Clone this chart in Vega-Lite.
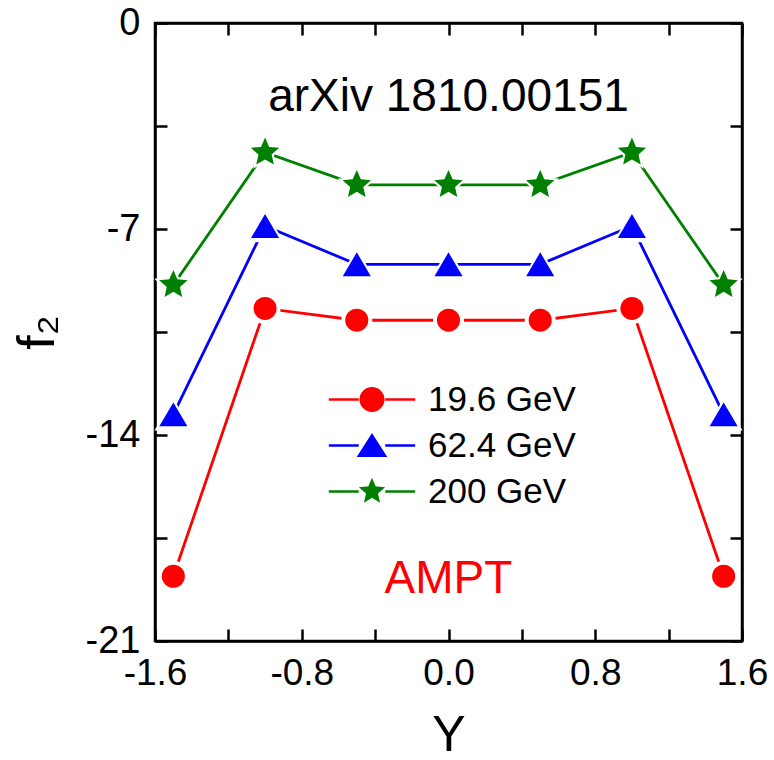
{
  "$schema": "https://vega.github.io/schema/vega-lite/v6.json",
  "width": 587,
  "height": 618,
  "autosize": {"type": "none"},
  "padding": {"left": 155, "top": 23, "right": 32, "bottom": 119},
  "background": "white",
  "config": {
    "font": "Liberation Sans",
    "view": {"stroke": "black", "strokeWidth": 2.5}
  },
  "data": {
    "values": [
      {"series": "19.6 GeV", "energy": 19.6, "Y": -1.5, "f2": -18.8},
      {"series": "19.6 GeV", "energy": 19.6, "Y": -1.0, "f2": -9.7},
      {"series": "19.6 GeV", "energy": 19.6, "Y": -0.5, "f2": -10.1},
      {"series": "19.6 GeV", "energy": 19.6, "Y": 0.0, "f2": -10.1},
      {"series": "19.6 GeV", "energy": 19.6, "Y": 0.5, "f2": -10.1},
      {"series": "19.6 GeV", "energy": 19.6, "Y": 1.0, "f2": -9.7},
      {"series": "19.6 GeV", "energy": 19.6, "Y": 1.5, "f2": -18.8},
      {"series": "62.4 GeV", "energy": 62.4, "Y": -1.5, "f2": -13.3},
      {"series": "62.4 GeV", "energy": 62.4, "Y": -1.0, "f2": -6.9},
      {"series": "62.4 GeV", "energy": 62.4, "Y": -0.5, "f2": -8.2},
      {"series": "62.4 GeV", "energy": 62.4, "Y": 0.0, "f2": -8.2},
      {"series": "62.4 GeV", "energy": 62.4, "Y": 0.5, "f2": -8.2},
      {"series": "62.4 GeV", "energy": 62.4, "Y": 1.0, "f2": -6.9},
      {"series": "62.4 GeV", "energy": 62.4, "Y": 1.5, "f2": -13.3},
      {"series": "200 GeV", "energy": 200, "Y": -1.5, "f2": -8.9},
      {"series": "200 GeV", "energy": 200, "Y": -1.0, "f2": -4.4},
      {"series": "200 GeV", "energy": 200, "Y": -0.5, "f2": -5.5},
      {"series": "200 GeV", "energy": 200, "Y": 0.0, "f2": -5.5},
      {"series": "200 GeV", "energy": 200, "Y": 0.5, "f2": -5.5},
      {"series": "200 GeV", "energy": 200, "Y": 1.0, "f2": -4.4},
      {"series": "200 GeV", "energy": 200, "Y": 1.5, "f2": -8.9}
    ]
  },
  "layer": [
    {
      "mark": {"type": "line", "strokeWidth": 2.8},
      "encoding": {
        "x": {
          "field": "Y", "type": "quantitative",
          "scale": {"domain": [-1.6, 1.6], "nice": false, "zero": false},
          "axis": {
            "orient": "bottom",
            "title": "Y",
            "titleFontSize": 50,
            "titleFontWeight": "normal",
            "titleColor": "black",
            "titlePadding": 19,
            "values": [-1.6, -1.2, -0.8, -0.4, 0, 0.4, 0.8, 1.2, 1.6],
            "labelExpr": "round(datum.value*10) % 8 === 0 ? (datum.value === 0 ? '0.0' : '' + datum.value) : ''",
            "labelFontSize": 37,
            "labelColor": "black",
            "labelFlush": false,
            "labelOverlap": false,
            "labelPadding": 26,
            "tickSize": -12,
            "tickWidth": 2.5,
            "tickColor": "black",
            "domainColor": "black",
            "domainWidth": 2.5,
            "grid": false
          }
        },
        "y": {
          "field": "f2", "type": "quantitative",
          "scale": {"domain": [-21, 0], "nice": false, "zero": false},
          "axis": {
            "orient": "left",
            "title": "f₂",
            "titleFontSize": 52,
            "titleFontWeight": "normal",
            "titleColor": "black",
            "titlePadding": 21,
            "values": [0, -3.5, -7, -10.5, -14, -17.5, -21],
            "labelExpr": "datum.value % 7 === 0 ? '' + datum.value : ''",
            "labelFontSize": 38,
            "labelColor": "black",
            "labelFlush": false,
            "labelOverlap": false,
            "labelPadding": 27,
            "tickSize": -12,
            "tickWidth": 2.5,
            "tickColor": "black",
            "domainColor": "black",
            "domainWidth": 2.5,
            "grid": false
          }
        },
        "color": {
          "field": "series", "type": "nominal",
          "scale": {"domain": ["19.6 GeV", "62.4 GeV", "200 GeV"], "range": ["#ff0000", "#0000ff", "#008000"]},
          "legend": {
            "orient": "none",
            "legendX": 199.5,
            "legendY": 359,
            "title": null,
            "padding": 0,
            "symbolSize": 530,
            "symbolStrokeWidth": 2.5,
            "labelFontSize": 35,
            "labelColor": "black",
            "labelOffset": 38.5,
            "rowPadding": 10,
            "labelLimit": 400,
            "encode": {
              "symbols": {
                "update": {
                  "shape": {"signal": "datum.value === '19.6 GeV' ? 'M-3.75,0L-1.15,0M1.15,0L3.75,0M0.98,0A0.98,0.98,0,1,1,-0.98,0A0.98,0.98,0,1,1,0.98,0Z' : datum.value === '62.4 GeV' ? 'M-3.75,0L-1.15,0M1.15,0L3.75,0M0,-0.88L1.13,0.88L-1.13,0.88Z' : 'M-3.75,0L-1.15,0M1.15,0L3.75,0M0,-0.92L0.247,-0.34L0.875,-0.284L0.399,0.13L0.541,0.744L0,0.42L-0.541,0.744L-0.399,0.13L-0.875,-0.284L-0.247,-0.34Z'"},
                  "fill": {"scale": "color", "field": "value"},
                  "stroke": {"scale": "color", "field": "value"},
                  "strokeWidth": {"value": 2.5},
                  "opacity": {"value": 1}
                }
              }
            }
          }
        }
      }
    },
    {
      "mark": {"type": "point", "filled": true, "opacity": 1, "size": 961, "color": "white"},
      "encoding": {
        "x": {
          "field": "Y", "type": "quantitative",
          "axis": {"orient": "top", "title": null, "labels": false, "values": [-1.6, -1.2, -0.8, -0.4, 0, 0.4, 0.8, 1.2, 1.6], "tickSize": -12, "tickWidth": 2.5, "tickColor": "black", "domainColor": "black", "domainWidth": 2.5, "grid": false}
        },
        "y": {
          "field": "f2", "type": "quantitative",
          "axis": {"orient": "right", "title": null, "labels": false, "values": [0, -3.5, -7, -10.5, -14, -17.5, -21], "tickSize": -12, "tickWidth": 2.5, "tickColor": "black", "domainColor": "black", "domainWidth": 2.5, "grid": false}
        },
        "shape": {
          "field": "energy", "type": "nominal",
          "scale": {
            "domain": [19.6, 62.4, 200],
            "range": [
              "circle",
              "M0,-1.04L1.22,1.04L-1.22,1.04Z",
              "M0,-1.3L0.353,-0.485L1.236,-0.402L0.571,0.185L0.764,1.052L0,0.6L-0.764,1.052L-0.571,0.185L-1.236,-0.402L-0.353,-0.485Z"
            ]
          },
          "legend": null
        }
      }
    },
    {
      "mark": {"type": "point", "filled": true, "opacity": 1, "size": 530},
      "encoding": {
        "x": {"field": "Y", "type": "quantitative", "axis": null},
        "y": {"field": "f2", "type": "quantitative", "axis": null},
        "shape": {"field": "energy", "type": "nominal", "legend": null},
        "color": {"field": "series", "type": "nominal"}
      }
    },
    {
      "data": {"values": [{"label": "arXiv 1810.00151"}]},
      "mark": {"type": "text", "fontSize": 46, "color": "black", "align": "center", "baseline": "alphabetic"},
      "encoding": {
        "text": {"field": "label"},
        "x": {"datum": 0, "type": "quantitative", "axis": null},
        "y": {"datum": -3.0, "type": "quantitative", "axis": null}
      }
    },
    {
      "data": {"values": [{"label": "AMPT"}]},
      "mark": {"type": "text", "fontSize": 46, "color": "#ff0000", "align": "center", "baseline": "alphabetic"},
      "encoding": {
        "text": {"field": "label"},
        "x": {"datum": 0, "type": "quantitative", "axis": null},
        "y": {"datum": -19.37, "type": "quantitative", "axis": null}
      }
    }
  ]
}
